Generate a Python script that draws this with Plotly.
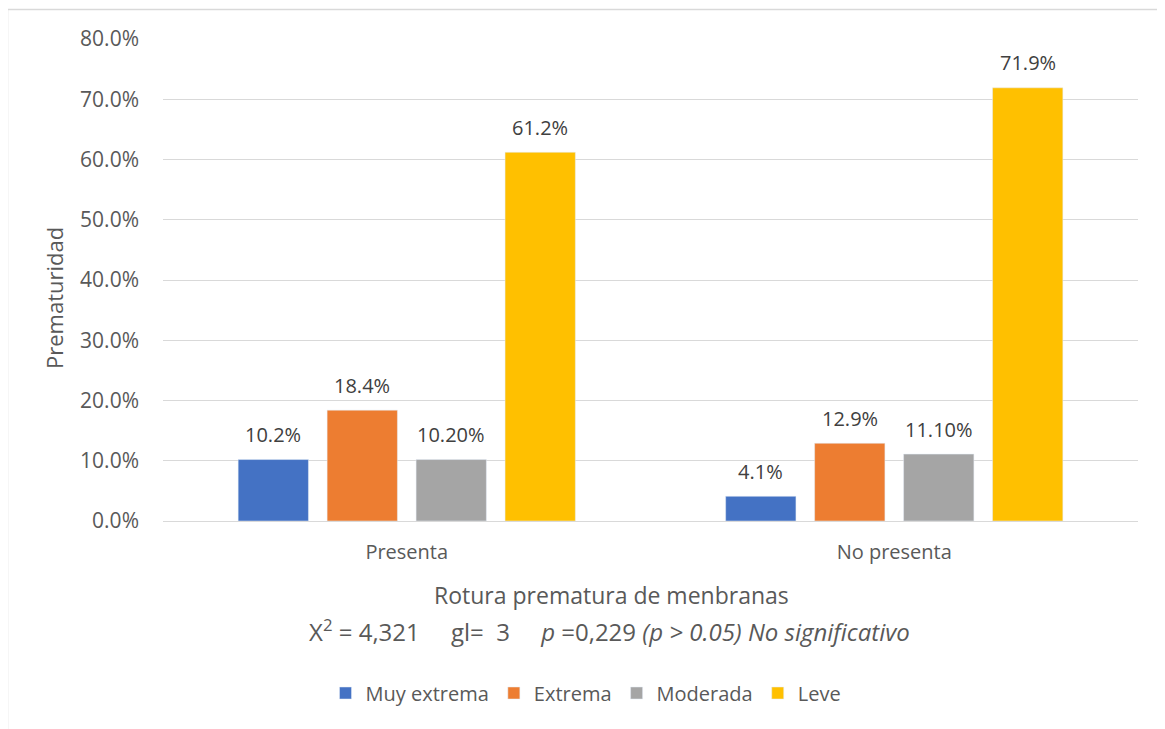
import plotly.graph_objects as go

categories = ["Presenta", "No presenta"]
series_names = ["Muy extrema", "Extrema", "Moderada", "Leve"]
muy_extrema = [10.2, 4.1]
extrema = [18.4, 12.9]
moderada = [10.2, 11.1]
leve = [61.2, 71.9]
label_muy_extrema = ["10.2%", "4.1%"]
label_extrema = ["18.4%", "12.9%"]
label_moderada = ["10.20%", "11.10%"]
label_leve = ["61.2%", "71.9%"]
y_ticks = [0, 10, 20, 30, 40, 50, 60, 70, 80]
y_tick_text = ["0.0%", "10.0%", "20.0%", "30.0%", "40.0%", "50.0%", "60.0%", "70.0%", "80.0%"]

colors = ["#4472C4", "#ED7D31", "#A5A5A5", "#FFC000"]
values = [muy_extrema, extrema, moderada, leve]
labels = [label_muy_extrema, label_extrema, label_moderada, label_leve]

FONT = "'Open Sans', sans-serif"
TXT = "#595959"

OFF = 8  # page body margin
W, H = 1165 - OFF, 729 - OFF
# plot area in page pixels
PL, PR, PT, PB = 163, 1138, 39, 521
ml, mr, mt, mb = PL - OFF, W - (PR - OFF), PT - OFF, H - (PB - OFF)
pw = PR - PL
ph = PB - PT
BARGAP, GROUPGAP = 0.27, 0.21
slot = pw / len(categories) * (1 - BARGAP) / len(series_names)

def py(pix):
    return (PB - pix) / ph

def px(pix):
    return (pix - PL) / pw

fig = go.Figure()
annotations = []
for i, (name, vals, labs, col) in enumerate(zip(series_names, values, labels, colors)):
    fig.add_trace(go.Bar(
        x=categories, y=vals, name=name, marker_color=col,
        hovertemplate="%{x}<br>" + name + ": %{y}%<extra></extra>",
    ))
    for cat, v, lab in zip(categories, vals, labs):
        annotations.append(dict(
            x=cat, y=v, xref="x", yref="y", text=lab, showarrow=False,
            xanchor="center", yanchor="middle",
            xshift=(i - (len(series_names) - 1) / 2) * slot, yshift=25,
            font=dict(size=20, color="#404040", family=FONT),
        ))

annotations += [
    dict(text="Prematuridad", xref="paper", yref="paper", textangle=-90,
         x=px(54), y=py(298), xanchor="center", yanchor="middle", showarrow=False,
         font=dict(size=22, color=TXT)),
    dict(text="Rotura prematura de menbranas", xref="paper", yref="paper",
         x=px(611), y=py(595), xanchor="center", yanchor="middle", showarrow=False,
         font=dict(size=23, color=TXT)),
    dict(text="X<sup>2</sup> = 4,321\u00a0\u00a0\u00a0\u00a0\u00a0gl=\u00a0\u00a03\u00a0\u00a0\u00a0\u00a0\u00a0<i>p</i> =0,229 <i>(p > 0.05) No significativo</i>",
         xref="paper", yref="paper",
         x=px(609), y=py(630), xanchor="center", yanchor="middle", showarrow=False,
         font=dict(size=24, color=TXT)),
]

fig.update_layout(
    width=W, height=H,
    margin=dict(l=ml, r=mr, t=mt, b=mb),
    paper_bgcolor="white", plot_bgcolor="white",
    barmode="group", bargap=BARGAP, bargroupgap=GROUPGAP,
    font=dict(family=FONT, color=TXT, size=18),
    showlegend=True,
    legend=dict(orientation="h", x=px(586), xanchor="center", y=py(693), yanchor="middle",
                font=dict(size=20, color=TXT), traceorder="normal",
                itemwidth=30),
    xaxis=dict(showgrid=False, showline=False, ticks="", tickfont=dict(size=20, color=TXT),
               ticklabelstandoff=17),
    yaxis=dict(range=[0, 80], tickvals=y_ticks, ticktext=y_tick_text,
               showgrid=True, gridcolor="#D9D9D9", gridwidth=1, zeroline=True,
               zerolinecolor="#D9D9D9", zerolinewidth=1, ticks="",
               tickfont=dict(size=21, color=TXT), ticklabelstandoff=23),
    annotations=annotations,
    shapes=[
        dict(type="line", xref="paper", yref="paper", x0=px(7.5), x1=px(7.5), y0=py(9), y1=py(740),
             line=dict(color="#D9D9D9", width=1.5)),
        dict(type="line", xref="paper", yref="paper", x0=px(7.5), x1=px(1170), y0=py(9.5), y1=py(9.5),
             line=dict(color="#D9D9D9", width=1.5)),
    ],
)

fig.write_html("out.html")
